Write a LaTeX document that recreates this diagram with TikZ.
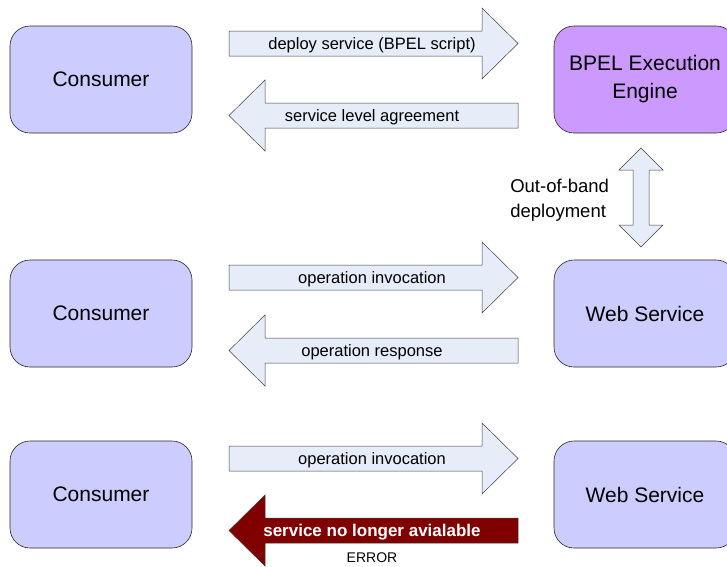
\documentclass[tikz,border=0pt]{standalone}
\usepackage{fontspec}
\setmainfont{Liberation Sans}
\definecolor{consfill}{HTML}{CCCCFF}
\definecolor{enginefill}{HTML}{CC99FF}
\definecolor{arrowfill}{HTML}{E6ECF8}
\definecolor{errred}{HTML}{800000}
\begin{document}
\begin{tikzpicture}[x=1pt,y=-1pt,line width=0.6pt,
	box/.style={draw=black!85,fill=consfill,rounded corners=20pt,minimum width=182pt,minimum height=107pt,align=center,font=\fontsize{21}{28}\selectfont},
	blockarrow/.style={draw=black!75,fill=arrowfill,line width=0.5pt},
	errarrow/.style={draw=black!75,fill=errred,line width=0.5pt},
	lbl/.style={font=\fontsize{16.5}{20}\selectfont,inner sep=0pt,yshift=-1.5pt}]
		\useasboundingbox (0,0) rectangle (727,566);
		% boxes
		\node[box] (cons1) at (101,79.5) {Consumer};
		\node[box,fill=enginefill] (engine) at (645,79.5) {BPEL Execution\\Engine};
		\node[box] (cons2) at (101,313.5) {Consumer};
		\node[box] (ws2) at (645,313.5) {Web Service};
		\node[box] (cons3) at (101,494.5) {Consumer};
		\node[box] (ws3) at (645,494.5) {Web Service};
		% row 1
		\draw[blockarrow] (229,31) -- (482,31) -- (482,8) -- (518,43.5) -- (482,79) -- (482,56) -- (229,56) -- cycle;
		\draw[blockarrow] (518,103) -- (265,103) -- (265,80) -- (229,115.5) -- (265,151) -- (265,128) -- (518,128) -- cycle;
		\node[lbl] (deploy) at (372,43.5) {deploy service (BPEL script)};
		\node[lbl] (sla) at (372,115.5) {service level agreement};
		% out-of-band
		\draw[blockarrow] (641,148) -- (663,170) -- (649,170) -- (649,225) -- (663,225) -- (641,247) -- (619,225) -- (633,225) -- (633,170) -- (619,170) -- cycle;
		\node[align=left,anchor=west,inner sep=0pt,font=\fontsize{18.5}{25}\selectfont] (oob) at (510,200) {Out-of-band\\deployment};
		% row 2
		\draw[blockarrow] (229,265) -- (482,265) -- (482,242) -- (518,277.5) -- (482,313) -- (482,290) -- (229,290) -- cycle;
		\draw[blockarrow] (518,338) -- (265,338) -- (265,315) -- (229,350.5) -- (265,386) -- (265,363) -- (518,363) -- cycle;
		\node[lbl] (invoke) at (372,277.5) {operation invocation};
		\node[lbl] (respond) at (372,350.5) {operation response};
		% row 3
		\draw[blockarrow] (229,446) -- (482,446) -- (482,423) -- (518,458.5) -- (482,494) -- (482,471) -- (229,471) -- cycle;
		\draw[errarrow] (518,518) -- (265,518) -- (265,495) -- (229,530.5) -- (265,566) -- (265,543) -- (518,543) -- cycle;
		\node[lbl] (invoke2) at (372,458.5) {operation invocation};
		\node[lbl,text=white,font=\bfseries\fontsize{17}{20}\selectfont] (failure) at (372,530.5) {service no longer avialable};
		\node[inner sep=0pt,font=\fontsize{14}{16}\selectfont] (errtag) at (372,558) {ERROR};
\end{tikzpicture}
\end{document}
